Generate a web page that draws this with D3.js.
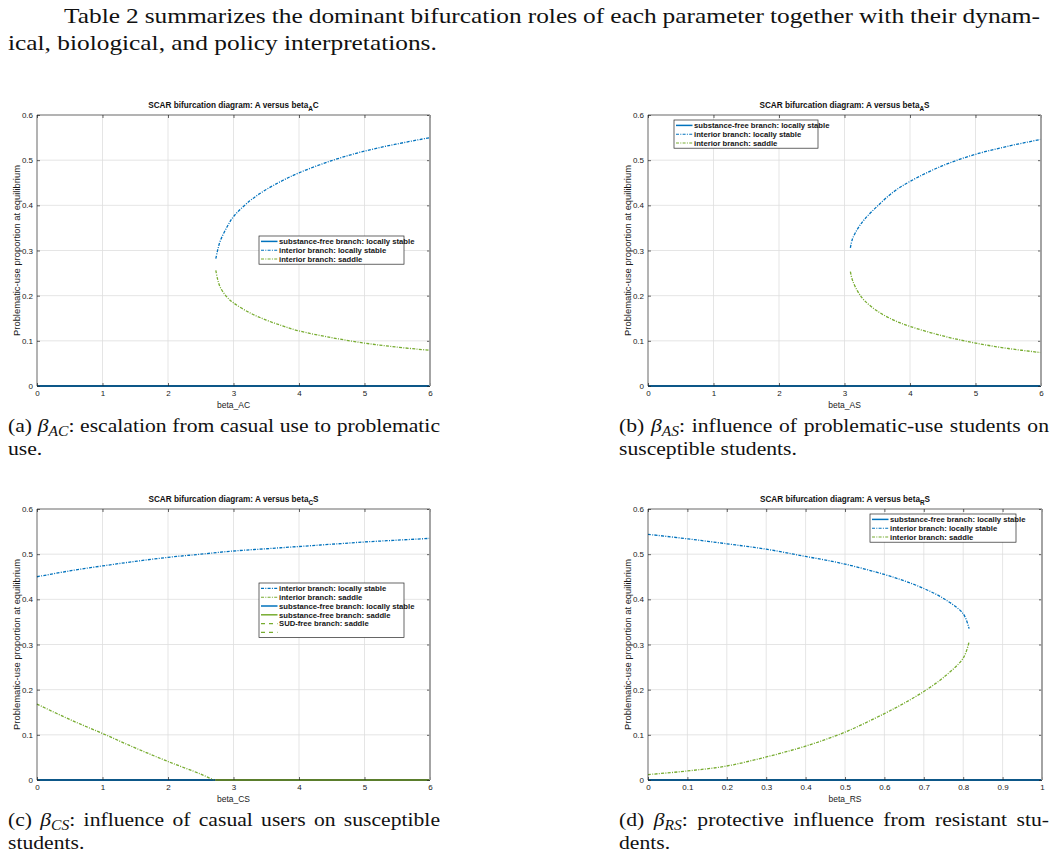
<!DOCTYPE html>
<html>
<head>
<meta charset="utf-8">
<script src="https://cdn.jsdelivr.net/npm/d3@7"></script>
<style>
  body { margin: 0; background: #fff; }
  svg text { font-family: "Liberation Sans", Arial, Helvetica, sans-serif; }
  svg text.tex { font-family: "Liberation Serif", "Times New Roman", serif; fill: #111; }
</style>
</head>
<body>
<svg id="fig" width="1056" height="857"></svg>
<script>
// ---- data ----
// (a) A versus beta_AC
const acX       = [2.73, 2.76, 2.8, 2.9, 3.0, 3.25, 3.5, 3.75, 4.0, 4.5, 5.0, 5.5, 6.0];
const acStable  = [0.282, 0.302, 0.322, 0.352, 0.375, 0.410, 0.435, 0.455, 0.472, 0.499, 0.520, 0.536, 0.550];
const acSaddle  = [0.256, 0.235, 0.218, 0.197, 0.184, 0.162, 0.146, 0.133, 0.122, 0.107, 0.095, 0.086, 0.079];

// (b) A versus beta_AS
const asX       = [3.09, 3.12, 3.2, 3.3, 3.5, 3.75, 4.0, 4.5, 5.0, 5.5, 6.0];
const asStable  = [0.306, 0.325, 0.348, 0.368, 0.398, 0.430, 0.453, 0.488, 0.513, 0.531, 0.546];
const asSaddle  = [0.253, 0.235, 0.210, 0.190, 0.166, 0.146, 0.132, 0.111, 0.095, 0.083, 0.074];

// (c) A versus beta_CS
const csX        = [0, 0.5, 1, 1.5, 2, 2.5, 3, 3.5, 4, 4.5, 5, 5.5, 6];
const csStable   = [0.450, 0.463, 0.474, 0.484, 0.493, 0.500, 0.507, 0.512, 0.517, 0.522, 0.527, 0.531, 0.535];
const csSaddleX  = [0, 0.5, 1, 1.5, 2, 2.5, 2.7];
const csSaddle   = [0.168, 0.134, 0.103, 0.071, 0.041, 0.013, 0.0];
const csFreeStableX = [0, 2.72];
const csFreeSaddleX = [2.72, 6];

// (d) A versus beta_RS
const rsX       = [0, 0.1, 0.2, 0.3, 0.4, 0.5, 0.6, 0.65, 0.7, 0.75, 0.8, 0.815];
const rsStable  = [0.544, 0.534, 0.523, 0.511, 0.495, 0.478, 0.455, 0.441, 0.424, 0.402, 0.368, 0.335];
const rsSaddle  = [0.012, 0.020, 0.031, 0.051, 0.075, 0.106, 0.147, 0.170, 0.196, 0.227, 0.270, 0.306];

const yTicks = [0, 0.1, 0.2, 0.3, 0.4, 0.5, 0.6];
const xTicksWide = [0, 1, 2, 3, 4, 5, 6];
const xTicksUnit = [0, 0.1, 0.2, 0.3, 0.4, 0.5, 0.6, 0.7, 0.8, 0.9, 1];

const labels = {
  freeStable: 'substance-free branch: locally stable',
  intStable: 'interior branch: locally stable',
  intSaddle: 'interior branch: saddle',
  freeSaddle: 'substance-free branch: saddle',
  sudSaddle: 'SUD-free branch: saddle'
};

// ---- styles ----
const blue = '#0072BD', green = '#77AC30';
const styles = {
  freeStable: { color: blue,  dash: null, width: 1.8 },
  intStable:  { color: blue,  dash: '3,1.3,1,1.3', width: 1.3 },
  intSaddle:  { color: green, dash: '3,1.3,1,1.3', width: 1.3 },
  freeSaddle: { color: green, dash: null, width: 1.8 },
  sudSaddle:  { color: green, dash: '3,3', width: 1.2 }
};

const zip = (xs, ys) => xs.map((x, i) => ({ x, y: ys[i] }));
const flat = xs => xs.map(x => ({ x, y: 0 }));

const panels = [
  { box: [37, 115, 430, 386], xDomain: [0, 6], xTicks: xTicksWide, xLabel: 'beta_AC', sub: 'A', tail: 'C',
    series: [ { s: 'freeStable', pts: flat([0, 6]) },
              { s: 'intStable', pts: zip(acX, acStable) },
              { s: 'intSaddle', pts: zip(acX, acSaddle) } ],
    legend: { x: 259, y: 236, w: 145, items: ['freeStable', 'intStable', 'intSaddle'] } },
  { box: [648, 115, 1041, 386], xDomain: [0, 6], xTicks: xTicksWide, xLabel: 'beta_AS', sub: 'A', tail: 'S',
    series: [ { s: 'freeStable', pts: flat([0, 6]) },
              { s: 'intStable', pts: zip(asX, asStable) },
              { s: 'intSaddle', pts: zip(asX, asSaddle) } ],
    legend: { x: 674, y: 120, w: 144, items: ['freeStable', 'intStable', 'intSaddle'] } },
  { box: [37, 509, 430, 780], xDomain: [0, 6], xTicks: xTicksWide, xLabel: 'beta_CS', sub: 'C', tail: 'S',
    series: [ { s: 'freeStable', pts: flat(csFreeStableX) },
              { s: 'freeSaddle', pts: flat(csFreeSaddleX) },
              { s: 'intStable', pts: zip(csX, csStable) },
              { s: 'intSaddle', pts: zip(csSaddleX, csSaddle) } ],
    legend: { x: 259, y: 583, w: 145, items: ['intStable', 'intSaddle', 'freeStable', 'freeSaddle', 'sudSaddle', 'sudSaddleBlank'] } },
  { box: [648, 509, 1042, 780], xDomain: [0, 1], xTicks: xTicksUnit, xLabel: 'beta_RS', sub: 'R', tail: 'S',
    series: [ { s: 'freeStable', pts: flat([0, 1]) },
              { s: 'intStable', pts: zip(rsX, rsStable) },
              { s: 'intSaddle', pts: zip(rsX, rsSaddle) } ],
    legend: { x: 870, y: 514, w: 146, items: ['freeStable', 'intStable', 'intSaddle'] } }
];

const svg = d3.select('#fig');
const fmt = d3.format('~g');

panels.forEach(p => {
  const [x0, y0, x1, y1] = p.box;
  const x = d3.scaleLinear().domain(p.xDomain).range([x0, x1]);
  const y = d3.scaleLinear().domain([0, 0.6]).range([y1, y0]);
  const g = svg.append('g');

  // grid
  g.selectAll('.gx').data(p.xTicks.slice(1, -1)).enter().append('line')
    .attr('x1', d => x(d)).attr('x2', d => x(d)).attr('y1', y0).attr('y2', y1)
    .attr('stroke', '#dedede').attr('stroke-width', 0.8);
  g.selectAll('.gy').data(yTicks.slice(1, -1)).enter().append('line')
    .attr('x1', x0).attr('x2', x1).attr('y1', d => y(d)).attr('y2', d => y(d))
    .attr('stroke', '#dedede').attr('stroke-width', 0.8);

  // series
  const line = d3.line().x(d => x(d.x)).y(d => y(d.y)).curve(d3.curveCatmullRom.alpha(0.5));
  p.series.forEach(sr => {
    const st = styles[sr.s];
    g.append('path').attr('d', line(sr.pts))
      .attr('fill', 'none').attr('stroke', st.color).attr('stroke-width', st.width)
      .attr('stroke-dasharray', st.dash);
  });

  // axes (ticks inward, on all four sides)
  const axB = d3.axisBottom(x).tickValues(p.xTicks).tickFormat(fmt).tickSizeInner(-3).tickSizeOuter(0).tickPadding(4);
  const axL = d3.axisLeft(y).tickValues(yTicks).tickFormat(fmt).tickSizeInner(-3).tickSizeOuter(0).tickPadding(4);
  const axT = d3.axisTop(x).tickValues(p.xTicks).tickFormat('').tickSizeInner(-3).tickSizeOuter(0);
  const axR = d3.axisRight(y).tickValues(yTicks).tickFormat('').tickSizeInner(-3).tickSizeOuter(0);
  [[axB, `translate(0,${y1})`], [axL, `translate(${x0},0)`], [axT, `translate(0,${y0})`], [axR, `translate(${x1},0)`]]
    .forEach(([ax, tr]) => {
      const a = g.append('g').attr('transform', tr).call(ax);
      a.select('.domain').remove();
      a.selectAll('line').attr('stroke', '#262626').attr('stroke-width', 0.7);
      a.selectAll('text').attr('font-size', 8).attr('fill', '#1a1a1a').attr('font-family', null);
    });

  // box
  g.append('path').attr('d', `M${x1},${y0}H${x0}V${y1}H${x1}`)
    .attr('fill', 'none').attr('stroke', '#262626').attr('stroke-width', 0.7);
  g.append('line').attr('x1', x1).attr('x2', x1).attr('y1', y0).attr('y2', y1)
    .attr('stroke', '#9a9a9a').attr('stroke-width', 1.8);

  // labels
  g.append('text').attr('x', (x0 + x1) / 2).attr('y', y1 + 21.5)
    .attr('text-anchor', 'middle').attr('font-size', 8.5).attr('fill', '#1a1a1a').text(p.xLabel);
  g.append('text').attr('transform', `translate(${x0 - 17},${(y0 + y1) / 2}) rotate(-90)`)
    .attr('text-anchor', 'middle').attr('font-size', 9.4).attr('fill', '#1a1a1a')
    .text('Problematic-use proportion at equilibrium');
  const t = g.append('text').attr('x', (x0 + x1) / 2).attr('y', y0 - 7)
    .attr('text-anchor', 'middle').attr('font-size', 8.2).attr('font-weight', 'bold').attr('fill', '#111');
  t.append('tspan').text('SCAR bifurcation diagram: A versus beta');
  t.append('tspan').attr('dy', 2.6).attr('font-size', 6.4).text(p.sub);
  t.append('tspan').attr('dy', -2.6).text(p.tail);

  // legend
  const L = p.legend, rowH = 8.8;
  const lg = g.append('g').attr('transform', `translate(${L.x},${L.y})`);
  lg.append('rect').attr('width', L.w).attr('height', L.items.length * rowH + 1.8)
    .attr('fill', '#fff').attr('stroke', '#262626').attr('stroke-width', 0.7);
  L.items.forEach((k, i) => {
    const key = k === 'sudSaddleBlank' ? 'sudSaddle' : k;
    const st = styles[key];
    const cy = 5.4 + i * rowH;
    lg.append('line').attr('x1', 2).attr('x2', 18.5).attr('y1', cy).attr('y2', cy)
      .attr('stroke', st.color).attr('stroke-width', st.dash ? 1.1 : 1.5).attr('stroke-dasharray', key === 'sudSaddle' ? '4,4' : st.dash);
    if (k !== 'sudSaddleBlank') {
      lg.append('text').attr('x', 20).attr('y', cy + 2.8).attr('font-size', 7.7).attr('font-weight', 'bold')
        .attr('fill', '#161616').text(labels[key]);
    }
  });
});

// ---- document text ----
// Liberation Serif is narrower than Computer Modern, so each line is stretched horizontally
function texLine(x, yb, size, sx, parts, width) {
  const t = svg.append('text').attr('class', 'tex')
    .attr('transform', `translate(${x},${yb}) scale(${sx},1)`).attr('font-size', size);
  parts.forEach(pt => {
    if (typeof pt === 'string') t.append('tspan').text(pt);
    else {
      t.append('tspan').attr('font-style', 'italic').text(pt.greek);
      t.append('tspan').attr('font-style', 'italic').attr('font-size', size * 0.72).attr('dy', size * 0.22).text(pt.sub);
      t.append('tspan').attr('dy', -size * 0.22).text(pt.after);
    }
  });
  if (width) {
    // justify: spread extra room over the word spaces, as LaTeX does
    const natural = t.node().getComputedTextLength();
    const spaces = (t.text().match(/ /g) || []).length;
    const extra = width / sx - natural;
    if (spaces) t.attr('word-spacing', extra / spaces);
  }
  return t;
}

const paraSize = 21.5, paraSx = 1.18;
const capSize = 19.5, capSx = 1.11;
texLine(64, 23, paraSize, paraSx, ['Table 2 summarizes the dominant bifurcation roles of each parameter together with their dynam-'], 976);
texLine(8, 50, paraSize, paraSx, ['ical, biological, and policy interpretations.']);

texLine(8, 432, capSize, capSx, ['(a) ', { greek: 'β', sub: 'AC', after: ': escalation from casual use to problematic' }], 432);
texLine(8, 455, capSize, capSx, ['use.']);
texLine(619, 432, capSize, capSx, ['(b) ', { greek: 'β', sub: 'AS', after: ': influence of problematic-use students on' }], 430);
texLine(619, 455, capSize, capSx, ['susceptible students.']);
texLine(8, 826, capSize, capSx, ['(c) ', { greek: 'β', sub: 'CS', after: ': influence of casual users on susceptible' }], 432);
texLine(8, 849, capSize, capSx, ['students.']);
texLine(619, 826, capSize, capSx, ['(d) ', { greek: 'β', sub: 'RS', after: ': protective influence from resistant stu-' }], 430);
texLine(619, 849, capSize, capSx, ['dents.']);
</script>
</body>
</html>
